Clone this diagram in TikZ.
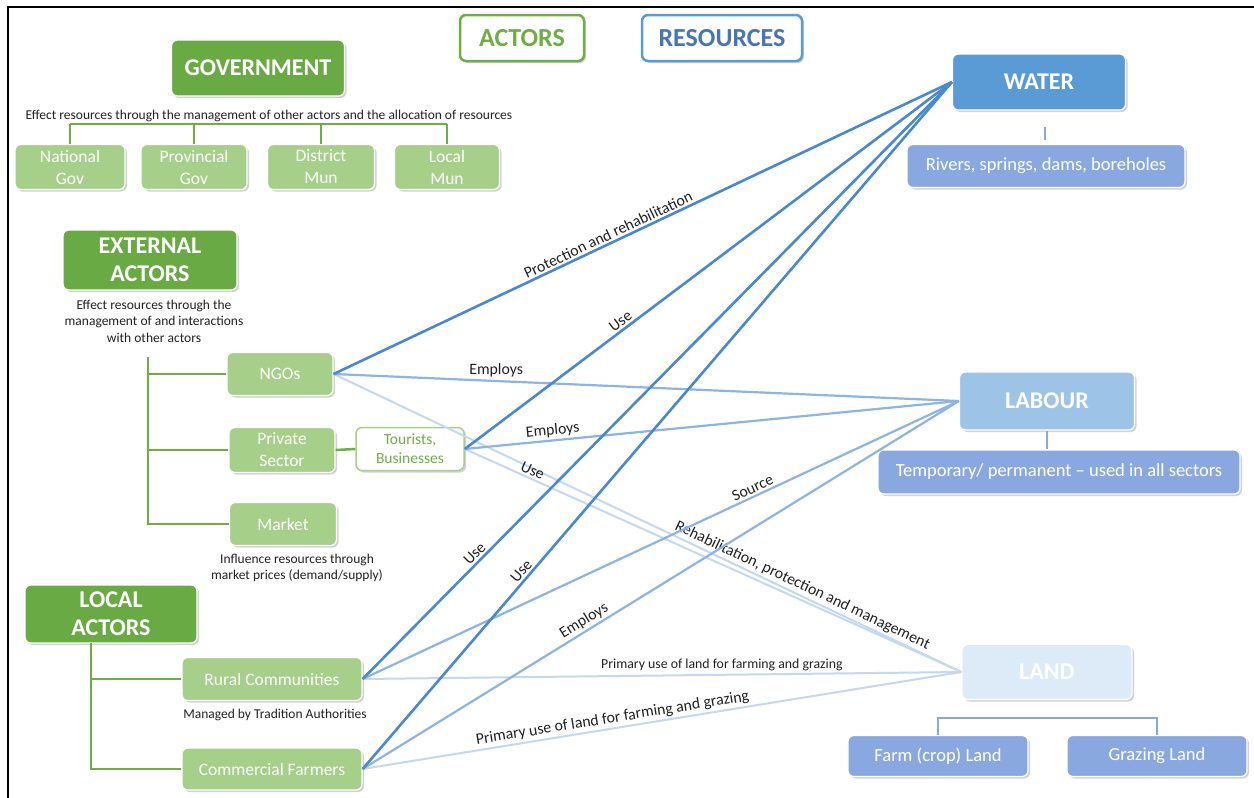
\documentclass[tikz,border=0pt]{standalone}
\usepackage{fontspec}
\setmainfont{Carlito}
\usetikzlibrary{shadows}
\definecolor{dkgreen}{HTML}{6AAA45}
\definecolor{ltgreen}{HTML}{A6CF8A}
\definecolor{brgreen}{HTML}{70AD47}
\definecolor{wblue}{HTML}{5B9BD5}
\definecolor{subblue}{HTML}{8AA8E0}
\definecolor{lblue}{HTML}{9DC3E6}
\definecolor{landblue}{HTML}{DDEAF7}
\definecolor{lineA}{HTML}{4A89CF}
\definecolor{lineB}{HTML}{8DB5E2}
\definecolor{lineC}{HTML}{C4D8EF}
\definecolor{titleblue}{HTML}{4A75B5}
\definecolor{txt}{HTML}{222222}
\tikzset{
  shad/.style={drop shadow={opacity=0.35,shadow xshift=2pt,shadow yshift=-2pt}},
  bigbox/.style={rounded corners=6pt,fill=dkgreen,draw=white,line width=1.2pt,shad,text=white,font=\bfseries\fontsize{24}{28}\selectfont,align=center,inner sep=0pt},
  subbox/.style={rounded corners=6pt,fill=ltgreen,draw=white,line width=1.2pt,shad,text=white,font=\fontsize{17.5}{22}\selectfont,align=center,inner sep=0pt},
  resbox/.style={rounded corners=6pt,draw=white,line width=1.2pt,shad,text=white,font=\bfseries\fontsize{24}{28}\selectfont,align=center,inner sep=0pt},
  rsub/.style={rounded corners=6pt,fill=subblue,draw=white,line width=1.2pt,shad,text=white,font=\fontsize{18.5}{22}\selectfont,align=center,inner sep=0pt},
  desc/.style={text=txt,font=\fontsize{13.5}{16.5}\selectfont,align=center,inner sep=0pt},
  tree/.style={draw=brgreen,line width=2.5pt},
  rtree/.style={draw=subblue,line width=2.5pt},
  la/.style={draw=lineA,line width=2.6pt},
  lb/.style={draw=lineB,line width=2.2pt},
  lc/.style={draw=lineC,line width=2pt},
  lab/.style={text=txt,font=\fontsize{15.8}{17}\selectfont,inner sep=2pt},
  labh/.style={text=txt,font=\fontsize{13.8}{16}\selectfont,inner sep=2pt},
}
\begin{document}
\begin{tikzpicture}[x=1pt,y=-1pt]
\useasboundingbox (0,0) rectangle (1254,798);
\fill[white] (0,0) rectangle (1254,798);
\draw[line width=2pt,black] (8,798) -- (8,7) -- (1254,7);

% legend
\node[rounded corners=6pt,draw=brgreen,line width=2.5pt,fill=white,shad,minimum width=124pt,minimum height=46pt,text=brgreen,font=\bfseries\fontsize{26}{28}\selectfont] (actors) at (522,38) {ACTORS};
\node[rounded corners=6pt,draw=wblue,line width=2.5pt,fill=white,shad,minimum width=160pt,minimum height=46pt,text=titleblue,font=\bfseries\fontsize{26}{28}\selectfont] (resources) at (722,38) {RESOURCES};

% government
\node[bigbox,minimum width=173pt,minimum height=56pt] (gov) at (258,68) {GOVERNMENT};
\node[desc] (govdesc) at (269,116) {Effect resources through the management of other actors and the allocation of resources};
\node[subbox,minimum width=110pt,minimum height=45pt] (nat) at (70,167) {National\\Gov};
\node[subbox,minimum width=106pt,minimum height=45pt] (prov) at (194,167) {Provincial\\Gov};
\node[subbox,minimum width=107pt,minimum height=45pt] (dist) at (321,167) {District\\Mun};
\node[subbox,minimum width=105pt,minimum height=45pt] (loc) at (447,167) {Local\\Mun};
\coordinate (gbar) at (0,124);
\draw[tree] (nat.north |- gbar) -- (loc.north |- gbar);
\foreach \n in {nat,prov,dist,loc} \draw[tree] (\n.north |- gbar) -- (\n.north);

% external actors
\node[bigbox,minimum width=174pt,minimum height=60pt] (ext) at (150,260) {EXTERNAL\\ACTORS};
\node[desc] (extdesc) at (154,321) {Effect resources through the\\management of and interactions\\with other actors};
\node[subbox,minimum width=106pt,minimum height=43pt] (ngo) at (280,374) {NGOs};
\node[subbox,minimum width=106pt,minimum height=45pt] (priv) at (282,450) {Private\\Sector};
\node[rounded corners=6pt,fill=white,draw=ltgreen,line width=1.5pt,shad,text=brgreen,font=\fontsize{15.5}{19}\selectfont,align=center,minimum width=108pt,minimum height=43pt,inner sep=0pt] (tour) at (410,449) {Tourists,\\Businesses};
\node[subbox,minimum width=107pt,minimum height=43pt] (mkt) at (283,524) {Market};
\node[desc] (mktdesc) at (297,568) {Influence resources through\\market prices (demand/supply)};
\coordinate (etop) at (148,357);
\draw[tree] (etop) -- (etop |- mkt.west) -- (mkt.west);
\draw[tree] (etop |- ngo.west) -- (ngo.west);
\draw[tree] (etop |- priv.west) -- (priv.west);
\draw[tree] (priv.east) -- (tour.west);

% local actors
\node[bigbox,minimum width=172pt,minimum height=58pt] (local) at (111,614) {LOCAL\\ACTORS};
\node[subbox,minimum width=180pt,minimum height=43pt] (rural) at (272,679) {Rural Communities};
\node[desc] (ruraldesc) at (275,715) {Managed by Tradition Authorities};
\node[subbox,minimum width=180pt,minimum height=42pt] (comm) at (272,769) {Commercial Farmers};
\coordinate (ltop) at (91,643);
\draw[tree] (ltop) -- (ltop |- comm.west) -- (comm.west);
\draw[tree] (ltop |- rural.west) -- (rural.west);

% resources
\node[resbox,fill=wblue,minimum width=173pt,minimum height=56pt] (water) at (1039,82) {WATER};
\node[rsub,minimum width=278pt,minimum height=43pt] (rivers) at (1046,166) {Rivers, springs, dams, boreholes};
\draw[rtree] (1045,127) -- (1045,140);
\node[resbox,fill=lblue,minimum width=175pt,minimum height=58pt] (labour) at (1047,401) {LABOUR};
\node[rsub,minimum width=362pt,minimum height=44pt] (temp) at (1059,472) {Temporary/ permanent -- used in all sectors};
\draw[rtree] (labour.south) -- (labour.south |- temp.north);
\node[resbox,fill=landblue,minimum width=170pt,minimum height=55pt] (land) at (1047,672) {LAND};
\node[rsub,minimum width=180pt,minimum height=41pt] (farm) at (938,756) {Farm (crop) Land};
\node[rsub,minimum width=180pt,minimum height=41pt] (graze) at (1157,756) {Grazing Land};
\coordinate (lbar) at (0,718);
\draw[rtree] (farm.north) -- (farm.north |- lbar) -- (graze.north |- lbar) -- (graze.north);

% connectors (light first)
\draw[lc] (ngo.east) -- (land.west) node[lab,pos=0.74,sloped,above] {Rehabilitation, protection and management};
\draw[lc] (tour.east) -- (land.west) node[lab,pos=0.13,sloped,above] {Use};
\draw[lc] (rural.east) -- (land.west) node[labh,pos=0.6,above,yshift=1pt] {Primary use of land for farming and grazing};
\draw[lc] (comm.east) -- (land.west) node[lab,pos=0.42,sloped,above] {Primary use of land for farming and grazing};
\draw[lb] (ngo.east) -- (labour.west) node[lab,pos=0.26,above,yshift=1pt] {Employs};
\draw[lb] (tour.east) -- (labour.west) node[lab,pos=0.18,sloped,above] {Employs};
\draw[lb] (rural.east) -- (labour.west) node[lab,pos=0.66,sloped,above] {Source};
\draw[lb] (comm.east) -- (labour.west) node[lab,pos=0.38,sloped,above] {Employs};
\draw[la] (ngo.east) -- (water.west) node[lab,pos=0.45,sloped,above] {Protection and rehabilitation};
\draw[la] (tour.east) -- (water.west) node[lab,pos=0.33,sloped,above] {Use};
\draw[la] (rural.east) -- (water.west) node[lab,pos=0.2,sloped,above] {Use};
\draw[la] (comm.east) -- (water.west) node[lab,pos=0.28,sloped,above] {Use};
\end{tikzpicture}
\end{document}
